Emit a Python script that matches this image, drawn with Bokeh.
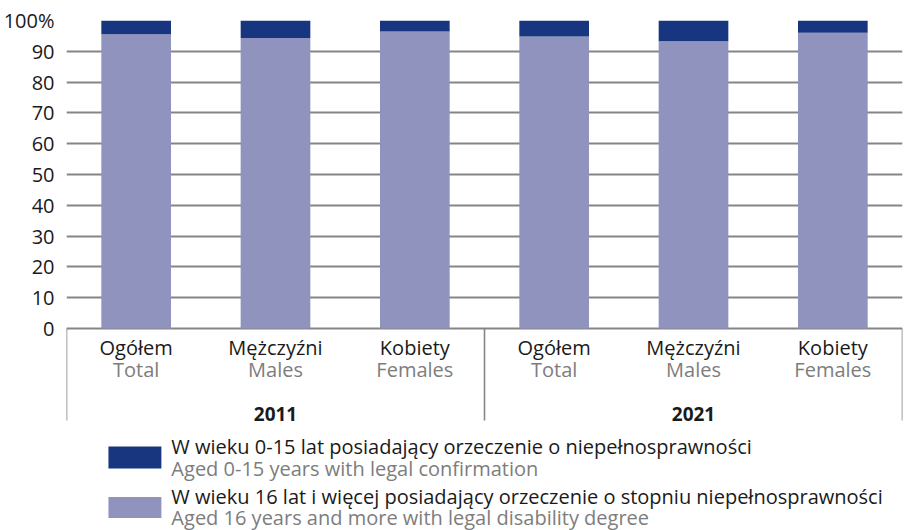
import numpy as np
from bokeh.plotting import figure
from bokeh.models import Range1d, FixedTicker
from bokeh.embed import file_html
from bokeh.resources import INLINE
from bokeh.core.properties import value

# ---- data ----
years = ["2011", "2021"]
groups_pl = ["Ogółem", "Mężczyźni", "Kobiety"]
groups_en = ["Total", "Males", "Females"]
aged_0_15 = [4.5, 5.7, 3.6, 5.2, 6.7, 4.0]
aged_16_plus = [95.5, 94.3, 96.4, 94.8, 93.3, 96.0]
y_ticks = [0, 10, 20, 30, 40, 50, 60, 70, 80, 90, 100]
y_tick_labels = ["0", "10", "20", "30", "40", "50", "60", "70", "80", "90", "100%"]
legend_pl = ["W wieku 0-15 lat posiadający orzeczenie o niepełnosprawności",
             "W wieku 16 lat i więcej posiadający orzeczenie o stopniu niepełnosprawności"]
legend_en = ["Aged 0-15 years with legal confirmation",
             "Aged 16 years and more with legal disability degree"]

DARK = "#17367f"
LIGHT = "#8f93be"
GRID = "#858585"
BLACK = "#1a1a1a"
GREY = "#7d7d7d"
FONT = "Open Sans"

W, H = 915, 530
LEFT, RIGHT, TOP, BASE = 65, 902, 20, 328      # frame / baseline pixel layout
PXU = (BASE - TOP) / 100.0                      # pixels per percent

n = len(groups_pl) * len(years)
xs = np.arange(n)
cat_pl = groups_pl * len(years)
cat_en = groups_en * len(years)
low = np.array(aged_16_plus)
high = low + np.array(aged_0_15)

p = figure(width=W, height=H,
           x_range=Range1d(-0.5, n - 0.5),
           y_range=Range1d(-(H - BASE) / PXU, 100),
           toolbar_location=None, output_backend="svg",
           x_axis_location=None,
           min_border_left=LEFT, min_border_right=W - RIGHT, min_border_top=TOP, min_border_bottom=0)
p.outline_line_color = None
# pixel-like helper ranges for layout of texts below the axis
p.extra_x_ranges = {"px": Range1d(LEFT, RIGHT)}
p.extra_y_ranges = {"px": Range1d(H, TOP)}

# y axis
p.yaxis.ticker = FixedTicker(ticks=y_ticks)
p.yaxis.major_label_overrides = {t: l for t, l in zip(y_ticks, y_tick_labels)}
p.yaxis.axis_line_color = None
p.yaxis.major_tick_line_color = None
p.yaxis.minor_tick_line_color = None
p.yaxis.major_label_standoff = 6
p.yaxis.major_label_text_font = FONT
p.yaxis.major_label_text_font_size = "20px"
p.yaxis.major_label_text_color = BLACK

p.ygrid.ticker = FixedTicker(ticks=y_ticks)
p.ygrid.grid_line_color = GRID
p.ygrid.grid_line_width = 1.8
p.xgrid.grid_line_color = None

# bars
p.vbar(x=xs, bottom=0, top=low, width=0.5, fill_color=LIGHT, line_color=None)
p.vbar(x=xs, bottom=low, top=high, width=0.5, fill_color=DARK, line_color=None)

# group separators (vertical lines under the axis)
bounds = [-0.5] + [len(groups_pl) * (i + 1) - 0.5 for i in range(len(years))]
p.segment(x0=bounds, x1=bounds, y0=[BASE] * len(bounds), y1=[420] * len(bounds),
          y_range_name="px", line_color=GRID, line_width=1.6)

# category labels
p.text(x=xs, y=[347] * n, text=cat_pl, y_range_name="px", text_align="center",
       text_baseline="middle", text_font=value(FONT), text_font_size="20px", text_color=BLACK)
p.text(x=xs, y=[369] * n, text=cat_en, y_range_name="px", text_align="center",
       text_baseline="middle", text_font=value(FONT), text_font_size="20px", text_color=GREY)
year_x = [float(np.mean(xs[i * len(groups_pl):(i + 1) * len(groups_pl)])) for i in range(len(years))]
p.text(x=year_x, y=[413] * len(years), text=years, y_range_name="px", text_align="center",
       text_baseline="middle", text_font=value(FONT), text_font_size="19px",
       text_font_style="bold", text_color=BLACK)

# legend
p.rect(x=[133.5, 133.5], y=[457, 507], width=53, height=[22, 21],
       x_range_name="px", y_range_name="px", fill_color=[DARK, LIGHT], line_color=None)
p.text(x=[170, 170], y=[446, 496], text=legend_pl, x_range_name="px", y_range_name="px",
       text_baseline="middle", text_font=value(FONT), text_font_size="20px", text_color=BLACK)
p.text(x=[170, 170], y=[468, 517], text=legend_en, x_range_name="px", y_range_name="px",
       text_baseline="middle", text_font=value(FONT), text_font_size="20px", text_color=GREY)

open("out.html", "w").write(file_html(p, INLINE))
